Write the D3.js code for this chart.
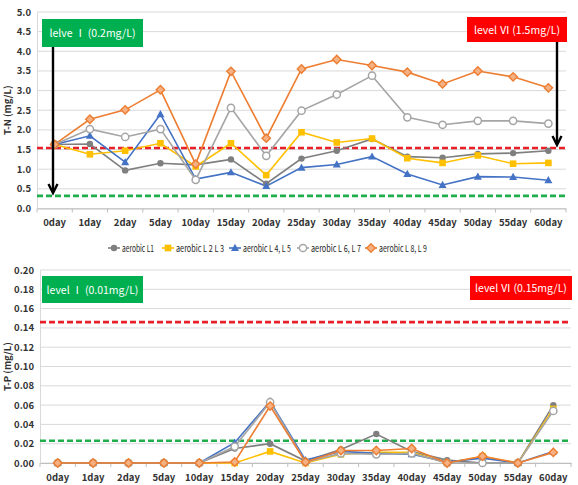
<!DOCTYPE html>
<html>
<head>
<meta charset="utf-8">
<script src="https://cdn.jsdelivr.net/npm/d3@7"></script>
<style>
  body { margin: 0; background: #fff; }
  text { font-family: "Noto Sans CJK KR", "Noto Sans", sans-serif; }
</style>
</head>
<body>
<div id="chart"></div>
<script>
// categories (sampling days)
const days = ["0day","1day","2day","5day","10day","15day","20day","25day","30day","35day","40day","45day","50day","55day","60day"];
const seriesNames = ["aerobic L1", "aerobic L 2 L 3", "aerobic L 4, L 5", "aerobic L 6, L 7", "aerobic L 8, L 9"];

// T-N (mg/L)
const tnL1   = [1.63,1.64,0.97,1.15,1.11,1.25,0.63,1.27,1.47,1.77,1.32,1.29,1.39,1.41,1.47];
const tnL23  = [1.63,1.38,1.47,1.66,1.07,1.66,0.85,1.94,1.68,1.78,1.28,1.16,1.35,1.14,1.16];
const tnL45  = [1.63,1.85,1.18,2.40,0.75,0.92,0.57,1.04,1.12,1.32,0.88,0.60,0.81,0.80,0.72];
const tnL67  = [1.63,2.02,1.82,2.02,0.73,2.56,1.34,2.49,2.90,3.38,2.32,2.13,2.23,2.23,2.16];
const tnL89  = [1.63,2.27,2.51,3.02,1.13,3.49,1.79,3.55,3.79,3.64,3.47,3.17,3.50,3.35,3.07];

// T-P (mg/L)
const tpL1   = [0,0,0,0,0,0.015,0.020,0.002,0.014,0.030,0.012,0.003,0.000,0,0.060];
const tpL23  = [0,0,0,0,0,0.000,0.012,0.000,0.009,0.011,0.011,0.000,0.007,0,0.056];
const tpL45  = [0,0,0,0,0,0.021,0.064,0.003,0.012,0.010,0.009,0.001,0.005,0,0.012];
const tpL67  = [0,0,0,0,0,0.017,0.063,0.001,0.010,0.009,0.010,0.000,0.000,0,0.054];
const tpL89  = [0,0,0,0,0,0.001,0.059,0.001,0.013,0.013,0.015,0.000,0.007,0,0.011];

// standard levels
const tnLevels = [0.32, 1.54];
const tpLevels = [0.023, 0.146];
const tnTicks = [0,0.5,1,1.5,2,2.5,3,3.5,4,4.5,5];
const tpTicks = [0,0.02,0.04,0.06,0.08,0.1,0.12,0.14,0.16,0.18,0.2];

const colors = ["#7f7f7f", "#ffc000", "#4472c4", "#a5a5a5", "#ed7d31"];
const shapes = ["circle", "square", "triangle", "ring", "diamond"];

const svg = d3.select("#chart").append("svg")
    .attr("width", 578).attr("height", 485);

function drawMarker(g, shape, color, x, y) {
  if (shape === "circle") {
    g.append("circle").attr("cx", x).attr("cy", y).attr("r", 3.2).attr("fill", color);
  } else if (shape === "ring") {
    g.append("circle").attr("cx", x).attr("cy", y).attr("r", 3.6)
      .attr("fill", "#fff").attr("stroke", color).attr("stroke-width", 1.5);
  } else if (shape === "square") {
    g.append("rect").attr("x", x - 3.3).attr("y", y - 3.3).attr("width", 6.6).attr("height", 6.6).attr("fill", color);
  } else if (shape === "triangle") {
    g.append("path").attr("d", `M${x},${y-4.2} L${x+4},${y+3} L${x-4},${y+3} Z`).attr("fill", color);
  } else {
    g.append("path").attr("d", `M${x},${y-4.2} L${x+4.2},${y} L${x},${y+4.2} L${x-4.2},${y} Z`)
      .attr("fill", "#f4b183").attr("stroke", color).attr("stroke-width", 1.4);
  }
}

function drawArrow(x, y1, y2) {
  svg.append("line").attr("x1", x).attr("x2", x).attr("y1", y1).attr("y2", y2 - 1)
    .attr("stroke", "#000").attr("stroke-width", 2.4);
  svg.append("path").attr("d", `M${x - 4.5},${y2 - 9} L${x},${y2} L${x + 4.5},${y2 - 9}`)
    .attr("fill", "none").attr("stroke", "#000").attr("stroke-width", 2.4);
}

function drawPanel(opts) {
  const x = d3.scaleBand().domain(days).range([opts.left, opts.right]);
  const y = d3.scaleLinear().domain([0, opts.max]).range([opts.bottom, opts.top]);
  const g = svg.append("g");

  // gridlines
  g.selectAll(".grid").data(opts.ticks).enter().append("line")
    .attr("x1", opts.left).attr("x2", opts.right)
    .attr("y1", d => y(d)).attr("y2", d => y(d))
    .attr("stroke", "#d9d9d9").attr("stroke-width", 1);

  // y axis
  const ya = g.append("g").attr("transform", `translate(${opts.left},0)`)
    .call(d3.axisLeft(y).tickValues(opts.ticks).tickFormat(d3.format(opts.fmt)).tickSize(0).tickPadding(6));
  ya.select(".domain").attr("stroke", "#d9d9d9");
  ya.selectAll("text").attr("font-size", 9.5).attr("font-weight", "bold").attr("fill", "#333");

  // x axis
  const xa = g.append("g").attr("transform", `translate(0,${opts.bottom})`)
    .call(d3.axisBottom(x).tickSize(0).tickPadding(11));
  xa.select(".domain").attr("stroke", "#bfbfbf");
  xa.selectAll("text").attr("font-size", 9.5).attr("font-weight", "bold").attr("fill", "#333");
  g.selectAll(".xt").data(days.concat(["end"])).enter().append("line")
    .attr("x1", (d, i) => opts.left + i * x.step()).attr("x2", (d, i) => opts.left + i * x.step())
    .attr("y1", opts.bottom).attr("y2", opts.bottom + 4)
    .attr("stroke", "#bfbfbf");

  // axis title
  g.append("text")
    .attr("transform", `translate(11,${(opts.top + opts.bottom) / 2}) rotate(-90)`)
    .attr("text-anchor", "middle").attr("font-size", 9.5).attr("font-weight", "bold").attr("fill", "#333")
    .text(opts.title);

  // level lines
  g.append("line").attr("x1", opts.left).attr("x2", opts.right)
    .attr("y1", y(opts.levels[1])).attr("y2", y(opts.levels[1]))
    .attr("stroke", "#e8202a").attr("stroke-width", 2.6).attr("stroke-dasharray", "6,3");
  g.append("line").attr("x1", opts.left).attr("x2", opts.right)
    .attr("y1", y(opts.levels[0])).attr("y2", y(opts.levels[0]))
    .attr("stroke", "#1fae4b").attr("stroke-width", 2.6).attr("stroke-dasharray", "6,3");

  // series
  const line = d3.line().x((d, i) => x(days[i]) + x.bandwidth() / 2).y(d => y(d));
  opts.series.forEach((s, k) => {
    g.append("path").datum(s).attr("d", line)
      .attr("fill", "none").attr("stroke", colors[k]).attr("stroke-width", 1.6);
  });
  opts.series.forEach((s, k) => {
    s.forEach((v, i) => drawMarker(g, shapes[k], colors[k], x(days[i]) + x.bandwidth() / 2, y(v)));
  });

  // boxes
  opts.boxes.forEach(b => {
    g.append("rect").attr("x", b.x).attr("y", b.y).attr("width", b.w).attr("height", b.h).attr("fill", b.fill);
    g.append("text").attr("x", b.x + b.w / 2).attr("y", b.y + b.h / 2 + 4)
      .attr("text-anchor", "middle").attr("font-size", 10.5).attr("fill", "#fff").text(b.label);
  });
  return {x, y};
}

drawPanel({
  left: 37, right: 566, top: 12, bottom: 208.5, max: 5, ticks: tnTicks, fmt: ".1f",
  title: "T-N (mg/L)", levels: tnLevels,
  series: [tnL1, tnL23, tnL45, tnL67, tnL89],
  boxes: [
    {x: 42, y: 19, w: 101, h: 28, fill: "#00b050", label: "lelve Ⅰ (0.2mg/L)"},
    {x: 467, y: 17, w: 100, h: 25, fill: "#ff0000", label: "level Ⅵ (1.5mg/L)"}
  ]
});
drawArrow(53, 47, 193);
drawArrow(557, 42, 145);

drawPanel({
  left: 40, right: 571, top: 270, bottom: 463, max: 0.2, ticks: tpTicks, fmt: ".2f",
  title: "T-P (mg/L)", levels: tpLevels,
  series: [tpL1, tpL23, tpL45, tpL67, tpL89],
  boxes: [
    {x: 42, y: 276, w: 101, h: 27, fill: "#00b050", label: "level Ⅰ (0.01mg/L)"},
    {x: 470, y: 276, w: 102, h: 24, fill: "#ff0000", label: "level Ⅵ (0.15mg/L)"}
  ]
});

// legend
const legendX = [108, 162, 229, 297, 365];
const legendW = [32, 48, 48, 50, 48];
const lg = svg.append("g");
seriesNames.forEach((n, k) => {
  const lx = legendX[k], ly = 248;
  lg.append("line").attr("x1", lx).attr("x2", lx + 12).attr("y1", ly).attr("y2", ly)
    .attr("stroke", colors[k]).attr("stroke-width", 1.6);
  drawMarker(lg, shapes[k], colors[k], lx + 6, ly);
  lg.append("text").attr("x", lx + 14).attr("y", ly + 3.5).attr("font-size", 9.5).attr("fill", "#222")
    .attr("textLength", legendW[k]).attr("lengthAdjust", "spacingAndGlyphs").text(n);
});
</script>
</body>
</html>
